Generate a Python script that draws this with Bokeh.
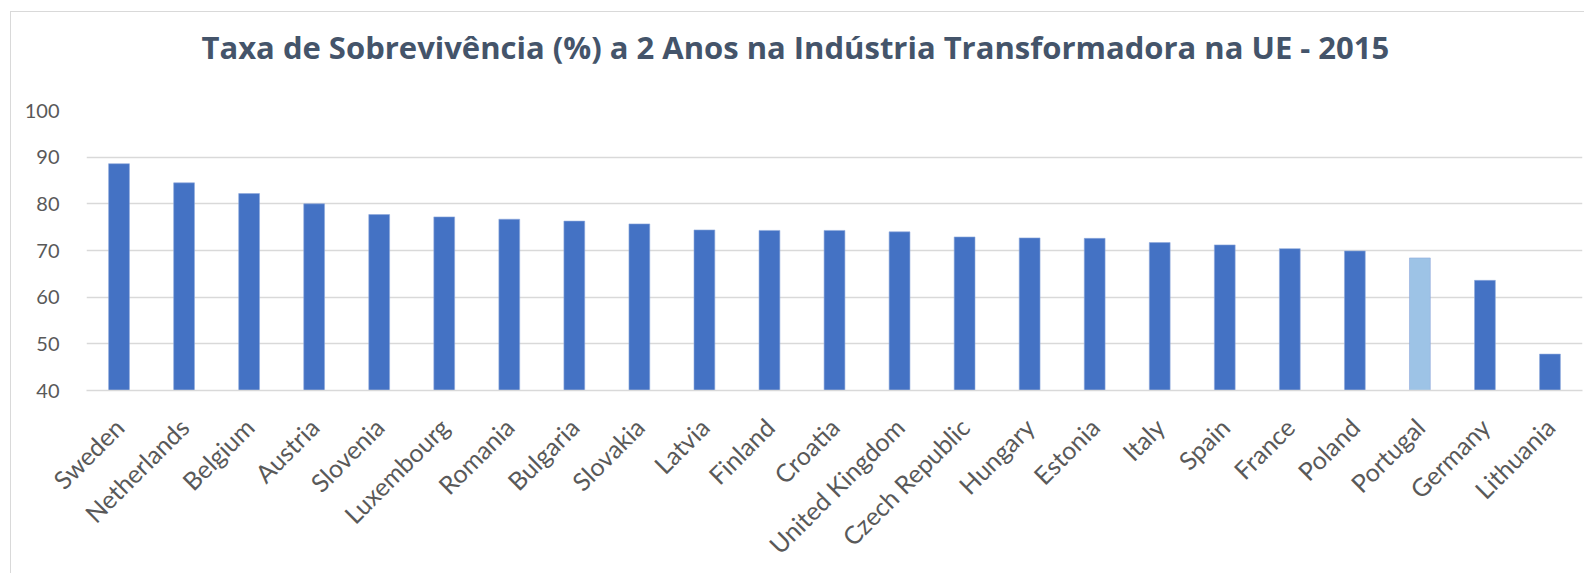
import math
from bokeh.plotting import figure
from bokeh.models import ColumnDataSource, FixedTicker, Title
from bokeh.embed import file_html
from bokeh.resources import INLINE

countries = ["Sweden", "Netherlands", "Belgium", "Austria", "Slovenia", "Luxembourg",
             "Romania", "Bulgaria", "Slovakia", "Latvia", "Finland", "Croatia",
             "United Kingdom", "Czech Republic", "Hungary", "Estonia", "Italy", "Spain",
             "France", "Poland", "Portugal", "Germany", "Lithuania"]
values = [88.6, 84.5, 82.2, 80.0, 77.7, 77.2, 76.7, 76.3, 75.7, 74.4, 74.3, 74.3,
          74.0, 72.9, 72.7, 72.6, 71.7, 71.2, 70.4, 69.9, 68.4, 63.6, 47.8]
highlight = "Portugal"
title_text = "Taxa de Sobrevivência (%) a 2 Anos na Indústria Transformadora na UE - 2015"
y_ticks = [40, 50, 60, 70, 80, 90, 100]

colors = ["#9DC3E6" if c == highlight else "#4472C4" for c in countries]
src = ColumnDataSource(dict(x=countries, top=values, color=colors))

W, H = 1574, 562
p = figure(x_range=countries, y_range=(40, 100), width=W, height=H,
           output_backend="svg", toolbar_location=None,
           min_border_left=75, min_border_right=3, min_border_top=98,
           min_border_bottom=184, title=title_text)
p.margin = (11, 0, 0, 10)
p.styles = {"border-left": "1.5px solid #D9D9D9", "border-top": "1.5px solid #D9D9D9"}

p.title.align = "left"
p.title.offset = 115
p.title.text_font = "Open Sans"
p.title.text_font_style = "bold"
p.title.text_font_size = "31px"
p.title.text_color = "#44546A"
# blank spacer between the title and the plot area
p.add_layout(Title(text=" ", text_font_size="23px", text_color="#FFFFFF"), "above")

p.vbar(x="x", top="top", bottom=40, width=0.32, source=src,
       fill_color="color", line_color="#8FAADC", line_width=0.6)

p.xgrid.grid_line_color = None
p.ygrid.grid_line_color = "#D9D9D9"
p.ygrid.grid_line_width = 1.5
p.yaxis.ticker = FixedTicker(ticks=y_ticks)
p.yaxis.axis_line_color = None
p.yaxis.major_tick_line_color = None
p.yaxis.minor_tick_line_color = None
p.yaxis.major_label_text_font = "Lato"
p.yaxis.major_label_text_font_size = "20px"
p.yaxis.major_label_text_color = "#595959"
p.yaxis.major_label_standoff = 21

p.xaxis.axis_line_color = "#D9D9D9"
p.xaxis.axis_line_width = 1.5
p.xaxis.major_tick_line_color = None
p.xaxis.minor_tick_line_color = None
p.xaxis.major_label_orientation = math.pi / 4
p.xaxis.major_label_text_font = "Lato"
p.xaxis.major_label_text_font_size = "25px"
p.xaxis.major_label_text_color = "#595959"
p.xaxis.major_label_standoff = 26
p.outline_line_color = None

open("out.html", "w").write(file_html(p, INLINE))
